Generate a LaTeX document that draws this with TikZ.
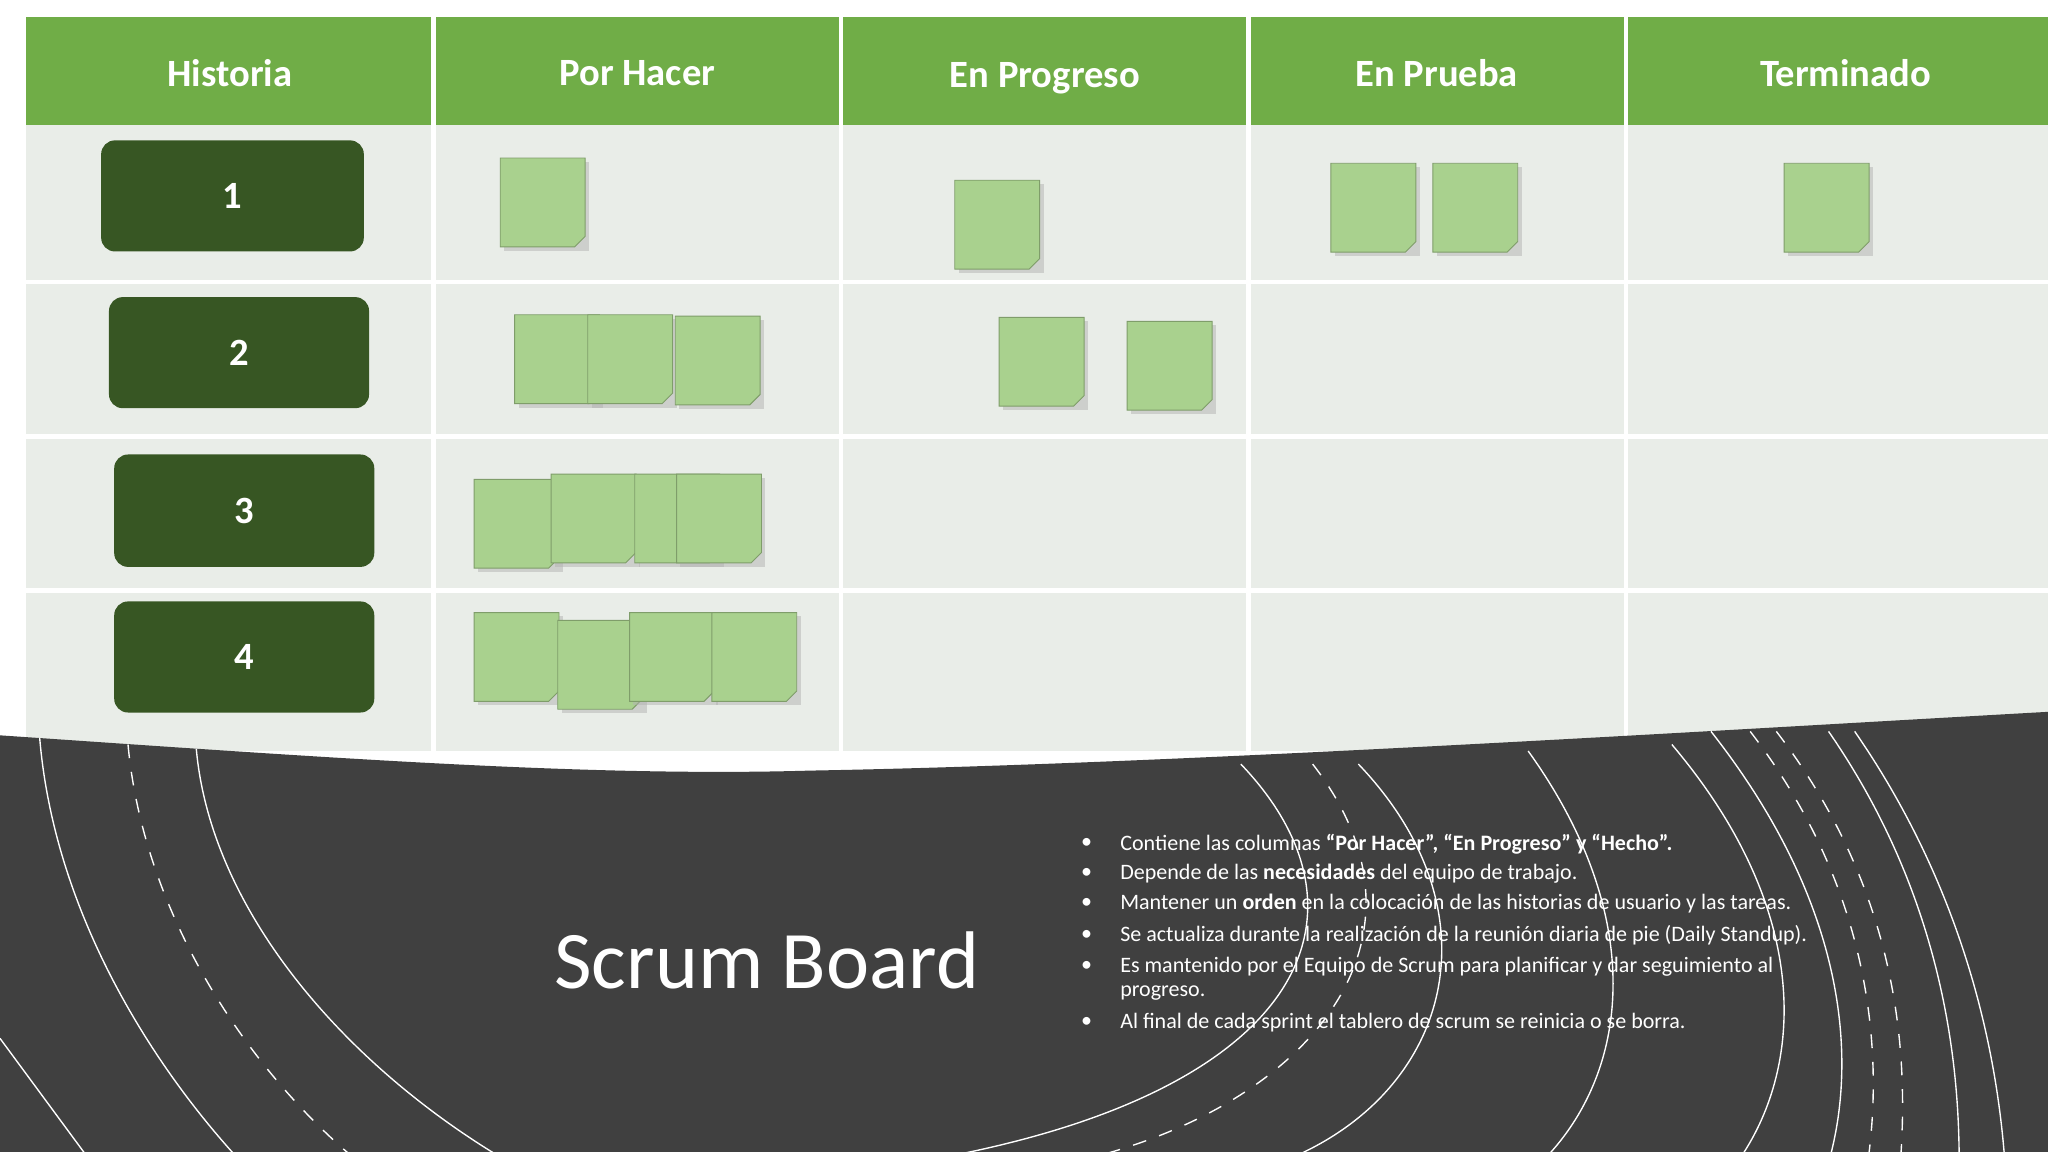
\documentclass[tikz,border=0pt]{standalone}
\usepackage{fontspec}
\setmainfont{Carlito}
\definecolor{hdr}{HTML}{70AD47}
\definecolor{cellbg}{HTML}{E9EDE8}
\definecolor{story}{HTML}{375623}
\definecolor{note}{HTML}{A9D18E}
\definecolor{dark}{HTML}{404040}
\tikzset{
 hdrtxt/.style={text=white,font=\fontsize{8.4}{9}\selectfont\bfseries},
 storybox/.style={fill=story,rounded corners=3pt,text=white,font=\fontsize{8.4}{9}\selectfont\bfseries},
 arc/.style={draw=white,line width=0.3pt},
 darc/.style={draw=white,line width=0.3pt,dashed},
 btxt/.style={text=white,font=\fontsize{4.8}{5.6}\selectfont,anchor=west,inner sep=0},
}
\newcommand{\snote}[3]{\fill[black!30,opacity=0.5] (#1+3,#2+3) rectangle ++(65,68);
 \filldraw[fill=note,draw=note!75!black,line width=0.2pt] (#1,#2) -- ++(65,0) -- ++(0,60) -- ++(-8,8) -- ++(-57,0) -- cycle;
 \node[coordinate] (#3) at (#1+32,#2+34) {};}
\begin{document}
\begin{tikzpicture}[x=0.01cm,y=-0.01cm]
\useasboundingbox (0,0) rectangle (1568,882);
\fill[white] (0,0) rectangle (1568,882);
% table
\fill[cellbg] (20,96) rectangle (1568,575);
\fill[hdr] (20,13) rectangle (1568,96);
\foreach \x in {332,644,956,1245} \draw[white,line width=1pt] (\x,13) -- (\x,575);
\foreach \y in {216,334,452} \draw[white,line width=1pt] (20,\y) -- (1568,\y);
\node[hdrtxt] (h1) at (176,56) {Historia};
\node[hdrtxt] (h2) at (488,56) {Por Hacer};
\node[hdrtxt] (h3) at (800,60) {En Progreso};
\node[hdrtxt] (h4) at (1100,56) {En Prueba};
\node[hdrtxt] (h5) at (1413,56) {Terminado};
\node[storybox,minimum width=2.01cm,minimum height=0.85cm] (s1) at (178,150) {1};
\node[storybox,minimum width=1.99cm,minimum height=0.85cm] (s2) at (183,270) {2};
\node[storybox,minimum width=1.99cm,minimum height=0.86cm] (s3) at (187,391) {3};
\node[storybox,minimum width=1.99cm,minimum height=0.85cm] (s4) at (187,503) {4};
% notes
\snote{383}{121}{n1}\snote{731}{138}{n2}\snote{1019}{125}{n3}\snote{1097}{125}{n4}\snote{1366}{125}{n5}
\snote{394}{241}{n6}\snote{450}{241}{n7}\snote{517}{242}{n8}\snote{765}{243}{n9}\snote{863}{246}{n10}
\snote{363}{367}{n11}\snote{422}{363}{n12}\snote{486}{363}{n13}\snote{518}{363}{n14}
\snote{363}{469}{n15}\snote{427}{475}{n16}\snote{482}{469}{n17}\snote{545}{469}{n18}
% dark bottom
\fill[dark] (0,563) .. controls (250,580) and (450,595) .. (620,590) .. controls (900,585) and (1300,560) .. (1568,545) -- (1568,882) -- (0,882) -- cycle;
\begin{scope}
\clip (0,563) .. controls (250,580) and (450,595) .. (620,590) .. controls (900,585) and (1300,560) .. (1568,545) -- (1568,882) -- (0,882) -- cycle;
\draw[arc] (30,560) .. controls (40,700) and (120,820) .. (185,890);
\draw[darc] (98,570) .. controls (110,700) and (190,820) .. (275,890);
\draw[arc] (150,570) .. controls (160,700) and (270,820) .. (390,890);
\draw[arc] (0,795) -- (70,890);
\draw[arc] (950,585) .. controls (1060,700) and (1000,840) .. (700,890);
\draw[darc] (1005,585) .. controls (1110,720) and (1000,850) .. (820,890);
\draw[arc] (1040,585) .. controls (1150,700) and (1110,840) .. (980,890);
\draw[arc] (1170,575) .. controls (1260,700) and (1250,820) .. (1180,890);
\draw[arc] (1280,570) .. controls (1390,700) and (1380,820) .. (1330,890);
\draw[arc] (1310,560) .. controls (1420,700) and (1420,820) .. (1400,890);
\draw[darc] (1340,560) .. controls (1440,690) and (1440,820) .. (1430,890);
\draw[darc] (1360,560) .. controls (1460,690) and (1460,820) .. (1455,890);
\draw[arc] (1400,560) .. controls (1490,690) and (1500,820) .. (1500,890);
\draw[arc] (1420,560) .. controls (1510,690) and (1530,820) .. (1535,890);
\end{scope}
\node[text=white,font=\fontsize{17.8}{20}\selectfont] (title) at (587,735) {Scrum Board};
\foreach \y/\t in {646/{Contiene las columnas \textbf{“Por Hacer”, “En Progreso” y “Hecho”.}},
 669/{Depende de las \textbf{necesidades} del equipo de trabajo.},
 692/{Mantener un \textbf{orden} en la colocación de las historias de usuario y las tareas.},
 716/{Se actualiza durante la realización de la reunión diaria de pie (Daily Standup).},
 740/{Es mantenido por el Equipo de Scrum para planificar y dar seguimiento al},
 783/{Al final de cada sprint el tablero de scrum se reinicia o se borra.}}
 {\node[btxt] at (857,\y) {\t}; \node[btxt] at (827,\y) {•};}
\node[btxt] (b5b) at (857,760) {progreso.};
\end{tikzpicture}
\end{document}
